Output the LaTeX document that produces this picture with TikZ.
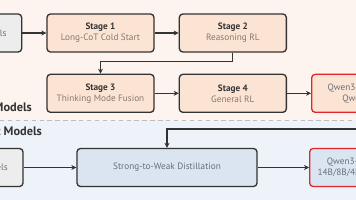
\documentclass[tikz,border=0pt]{standalone}
\usepackage{fontspec}
\setmainfont{PT Sans}
\usetikzlibrary{arrows.meta,calc,positioning}
\definecolor{Ink}{HTML}{333333}
\definecolor{Blush}{HTML}{FDF3EF}
\definecolor{Peach}{HTML}{FCE4D4}
\definecolor{Haze}{HTML}{EEF2F9}
\definecolor{Frost}{HTML}{DBE5F1}
\definecolor{Ash}{HTML}{EDEDED}
\definecolor{Alert}{HTML}{E0262B}
\definecolor{Clay}{HTML}{8A776B}
\definecolor{Slate}{HTML}{66707E}
\definecolor{Rule}{HTML}{BDBDBD}
\tikzset{
  stagebox/.style={
    rounded corners=4pt, draw=Ink, line width=1.5pt, fill=Peach,
    minimum width=4.28cm, minimum height=1.52cm, align=center,
    text=Clay, font=\fontsize{10.5}{12.5}\selectfont
  },
  basebox/.style={
    stagebox, fill=Ash, text=Slate, minimum width=3.2cm
  },
  distbox/.style={
    stagebox, fill=Frost, text=Slate, minimum width=7.2cm
  },
  modelbox/.style={
    stagebox, draw=Alert, minimum width=0pt, text=Slate
  },
  grouplabel/.style={
    anchor=east, inner sep=0pt, text=Ink,
    font=\fontsize{14}{16}\selectfont\bfseries
  },
  flow/.style={-{Stealth[length=2mm,width=2mm]}, line width=1.3pt, draw=Ink}
}
\newcommand{\stagehead}[1]{{\bfseries\color{Ink}#1}}

\begin{document}
\begin{tikzpicture}[x=0.04cm,y=-0.04cm]
  \useasboundingbox (0,0) rectangle (356,200);
  \clip (0,0) rectangle (356,200);
  % the two regions
  \fill[Blush] (0,0) rectangle (356,120);
  \fill[Haze] (0,120) rectangle (356,200);
  \draw[Rule, line width=1pt, dash pattern=on 5pt off 4pt] (0,120) -- (356,120);

  \node[stagebox] (s1) at (100.5,33) {\stagehead{Stage 1}\\Long-CoT Cold Start};
  \node[basebox,left=0.96cm of s1] (base) {Base Models};
  \node[stagebox,right=0.96cm of s1] (s2) {\stagehead{Stage 2}\\Reasoning RL};
  \node[stagebox,below=0.84cm of s1] (s3) {\stagehead{Stage 3}\\Thinking Mode Fusion};
  \node[stagebox,right=0.96cm of s3] (s4) {\stagehead{Stage 4}\\General RL};
  \node[modelbox,inner xsep=0.64cm,right=0.96cm of s4] (flag) {Qwen3-235B-A22B\\Qwen3-32B};
  \node[grouplabel] (flaglabel) at (32,108.5) {Flagship Models};

  \node[grouplabel] (lightlabel) at (42,132.5) {Lightweight Models};
  \node[distbox] (dist) at (167,167.5) {Strong-to-Weak Distillation};
  \node[basebox] (base2) at (-17,167.5) {Base Models};
  \node[modelbox,fill=Frost,inner xsep=0.32cm,anchor=west] (light) at (309,167.5) {Qwen3-30B-A3B\\14B/8B/4B/1.7B/0.6B};
  \coordinate (feed) at (380,129);

  \draw[flow] (base) -- (s1);
  \draw[flow] (s1) -- (s2);
  \draw[flow] (s2.south) -- ++(0,9) -| (s3.north);
  \draw[flow] (s3) -- (s4);
  \draw[flow] (s4) -- (flag);
  \draw[flow] (feed) -| (dist.north);
  \draw[flow] (base2) -- (dist);
  \draw[flow] (dist) -- (light);
\end{tikzpicture}
\end{document}
